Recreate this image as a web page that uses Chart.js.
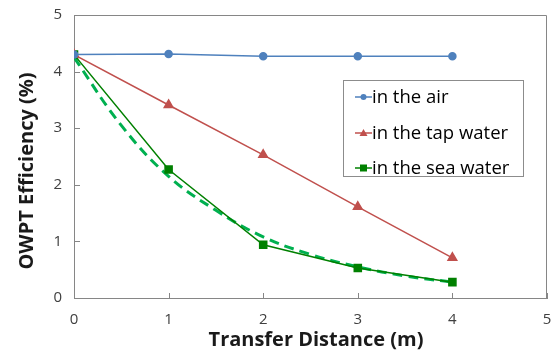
<!DOCTYPE html>
<html lang="en">
<head>
  <meta charset="UTF-8" />
  <title>OWPT Efficiency</title>
  <script src="https://cdn.jsdelivr.net/npm/chart.js"></script>
  <style>
    html, body { margin: 0; padding: 0; background: #fff; overflow: hidden; }
  </style>
</head>
<body>
  <canvas id="chart" width="554" height="353"></canvas>

  <script>
  // data
  const distances = [0, 1, 2, 3, 4];
  const inAir = [4.3, 4.31, 4.27, 4.27, 4.27];
  const inTapWater = [4.3, 3.41, 2.53, 1.61, 0.71];
  const inSeaWater = [4.3, 2.27, 0.94, 0.53, 0.28];

  // dashed fit curve for the sea water
  const fitX = [0, 0.5, 1, 1.5, 2, 2.5, 3, 3.5, 4];
  const fitY = [4.25, 3.05, 2.15, 1.55, 1.08, 0.77, 0.55, 0.39, 0.28];

  const axisTicks = [0, 1, 2, 3, 4, 5];
  const xTitle = 'Transfer Distance (m)';
  const yTitle = 'OWPT Efficiency (%)';

  const pts = (xs, ys) => xs.map((x, i) => ({ x: x, y: ys[i] }));

  const FONT = "'Open Sans', sans-serif";
  const AXIS = '#868686';

  // frame on top/right, inward tick marks, axis titles
  const frame = {
    id: 'frame',
    beforeDatasetsDraw(chart) {
      const { ctx, chartArea: a, scales } = chart;
      ctx.save();
      ctx.strokeStyle = AXIS;
      ctx.lineWidth = 1;
      ctx.beginPath();
      ctx.moveTo(a.left, a.top + 0.5);
      ctx.lineTo(a.right - 0.5, a.top + 0.5);
      ctx.lineTo(a.right - 0.5, a.bottom);
      axisTicks.forEach(v => {
        const px = Math.round(scales.x.getPixelForValue(v)) + 0.5;
        ctx.moveTo(px, a.bottom);
        ctx.lineTo(px, a.bottom - 5);
        const py = Math.round(scales.y.getPixelForValue(v)) + 0.5;
        ctx.moveTo(a.left, py);
        ctx.lineTo(a.left + 6, py);
      });
      ctx.stroke();

      ctx.fillStyle = '#1a1a1a';
      ctx.font = 'bold 20px ' + FONT;
      ctx.textAlign = 'center';
      ctx.textBaseline = 'middle';
      ctx.fillText(xTitle, 316, 340);
      ctx.translate(27, 171);
      ctx.rotate(-Math.PI / 2);
      ctx.fillText(yTitle, 0, 0);
      ctx.restore();
    }
  };

  // legend box inside the plot
  const legendBox = {
    id: 'legendBox',
    afterDraw(chart) {
      const { ctx } = chart;
      const x = 343, y = 80, w = 180, h = 96;
      ctx.save();
      ctx.fillStyle = '#fff';
      ctx.fillRect(x, y, w, h);
      ctx.strokeStyle = '#8c8c8c';
      ctx.lineWidth = 1;
      ctx.strokeRect(x + 0.5, y + 0.5, w, h);
      ctx.font = '18.5px ' + FONT;
      ctx.textBaseline = 'middle';
      const rows = [17, 53, 88];
      chart.data.datasets.slice(0, 3).forEach((ds, i) => {
        const cy = y + rows[i];
        ctx.strokeStyle = ds.borderColor;
        ctx.lineWidth = 1.5;
        ctx.beginPath();
        ctx.moveTo(355, cy);
        ctx.lineTo(372, cy);
        ctx.stroke();
        ctx.fillStyle = ds.pointBackgroundColor;
        ctx.beginPath();
        if (ds.pointStyle === 'circle') {
          ctx.arc(363.5, cy, 3, 0, Math.PI * 2);
        } else if (ds.pointStyle === 'triangle') {
          ctx.moveTo(363.5, cy - 4);
          ctx.lineTo(367.5, cy + 3);
          ctx.lineTo(359.5, cy + 3);
          ctx.closePath();
        } else {
          ctx.rect(360, cy - 3.5, 7, 7);
        }
        ctx.fill();
        ctx.fillStyle = '#000';
        ctx.fillText(ds.label, 372, cy + 1);
      });
      ctx.restore();
    }
  };

  new Chart(document.getElementById('chart'), {
    type: 'line',
    data: {
      datasets: [
        {
          label: 'in the air',
          data: pts(distances, inAir),
          borderColor: '#4F81BD',
          pointBackgroundColor: '#4F81BD',
          pointBorderColor: '#4F81BD',
          pointStyle: 'circle',
          pointRadius: 3.5,
          borderWidth: 1.5
        },
        {
          label: 'in the tap water',
          data: pts(distances, inTapWater),
          borderColor: '#C0504D',
          pointBackgroundColor: '#C0504D',
          pointBorderColor: '#C0504D',
          pointStyle: 'triangle',
          pointRadius: 5,
          borderWidth: 1.5
        },
        {
          label: 'in the sea water',
          data: pts(distances, inSeaWater),
          borderColor: '#008000',
          pointBackgroundColor: '#008000',
          pointBorderColor: '#008000',
          pointStyle: 'rect',
          pointRadius: 5,
          borderWidth: 1.5
        },
        {
          label: 'fit',
          data: pts(fitX, fitY),
          borderColor: '#00B050',
          borderWidth: 3,
          borderDash: [10, 6],
          pointRadius: 0,
          tension: 0.4
        }
      ]
    },
    options: {
      responsive: false,
      animation: false,
      events: [],
      layout: { padding: { left: 0, right: 7, top: 15, bottom: 0 } },
      plugins: { legend: { display: false }, tooltip: { enabled: false } },
      scales: {
        x: {
          type: 'linear',
          min: 0, max: 5,
          afterFit: s => { s.height = 55; s.paddingRight = 0; s.paddingLeft = 0; },
          grid: { display: false, drawTicks: false },
          border: { color: AXIS, width: 1 },
          ticks: { stepSize: 1, padding: 13, color: '#404040', font: { family: FONT, size: 15 } }
        },
        y: {
          min: 0, max: 5,
          afterFit: s => { s.width = 74; s.paddingTop = 0; s.paddingBottom = 0; },
          grid: { display: false, drawTicks: false },
          border: { color: AXIS, width: 1 },
          ticks: { stepSize: 1, padding: 12, color: '#404040', font: { family: FONT, size: 15 } }
        }
      }
    },
    plugins: [frame, legendBox]
  });
  </script>
</body>
</html>
